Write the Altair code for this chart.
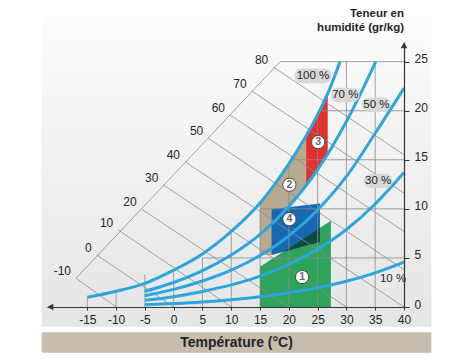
import altair as alt
import pandas as pd

FONT = "Liberation Sans, Arial, sans-serif"
TXT = "#252525"
GRID = "#8a8a8a"
CURVE = "#2ba6de"

# ---------------- data ----------------
# relative-humidity curves: temperature (°C) / moisture content (g/kg)
rh100_T = [-15, -10, -5, 0, 5, 10, 15, 20, 25, 27, 28.9]
rh100_w = [1.0, 1.6, 2.4, 3.75, 5.4, 7.7, 10.6, 14.6, 19.6, 22.1, 25.0]
rh70_T = [-5, 0, 5, 10, 15, 20, 25, 30, 35.1]
rh70_w = [1.6, 2.5, 3.7, 5.3, 7.4, 10.25, 14.0, 18.9, 25.0]
rh50_T = [-5, 0, 5, 10, 15, 20, 25, 30, 35, 40]
rh50_w = [1.15, 1.8, 2.65, 3.75, 5.25, 7.25, 9.9, 13.3, 17.7, 22.3]
rh30_T = [-5, 0, 5, 10, 15, 20, 25, 30, 35, 40]
rh30_w = [0.68, 1.05, 1.58, 2.25, 3.15, 4.35, 5.9, 7.9, 10.5, 13.7]
rh10_T = [-5, 0, 5, 10, 15, 20, 25, 30, 35, 40]
rh10_w = [0.22, 0.35, 0.52, 0.75, 1.05, 1.45, 1.95, 2.62, 3.48, 4.57]

rh_labels = ["100 %", "70 %", "50 %", "30 %", "10 %"]
rh_label_T = [24.2, 29.8, 35.2, 35.5, 38.1]
rh_label_w = [23.55, 21.6, 20.6, 12.85, 2.85]

# enthalpy lines (kJ/kg): start on the oblique axis, end on the frame
enth_h = [-10, 0, 10, 20, 30, 40, 50, 60, 70, 80]
enth_T0 = [-16.96, -13.37, -9.62, -5.55, -1.8, 1.97, 6.01, 9.78, 13.55, 17.3]
enth_w0 = [2.92, 5.3, 7.85, 9.96, 12.44, 14.8, 17.19, 19.57, 22.02, 24.46]
enth_T1 = [-10, 0, 10, 20, 30, 40, 40, 40, 40, 40]
enth_w1 = [0, 0, 0, 0, 0, 0, 3.8, 7.7, 11.6, 15.5]
enth_axis_T = [-17.0, 18.5]
enth_axis_w = [2.9, 25.0]

# grid
vgrid_T = [-15, -10, -5, 0, 5, 10, 15, 20, 25, 30, 35]
vgrid_top = [1.0, 1.6, 3.3, 3.7, 5.0, 7.7, 10.6, 14.6, 19.6, 25.0, 25.0]
hgrid_w = [5, 10, 15, 20, 25]
hgrid_T0 = [5, 15, 20.4, 25.3, 18.5]

x_ticks = [-15, -10, -5, 0, 5, 10, 15, 20, 25, 30, 35, 40]
y_ticks = [0, 5, 10, 15, 20, 25]

# zones (polygon vertices, T / w)
zone2_T = [15, 15, 17, 19, 21, 23, 23, 22, 21, 20, 19.5, 17]
zone2_w = [5.3, 10.6, 12.0, 13.7, 15.5, 17.5, 12.35, 11.6, 10.9, 10.25, 10.1, 5.3]
zone3_T = [23, 23, 24, 25, 26, 26.75, 26.75, 26, 25, 24]
zone3_w = [12.35, 17.5, 18.5, 19.6, 20.7, 21.7, 15.5, 14.8, 14.0, 13.15]
zone1_T = [15, 15, 27.3, 27.3]
zone1_w = [0, 4.1, 8.8, 0]
zone4_T = [17.0, 17.0, 25.4, 25.4]
zone4_w = [5.3, 9.95, 10.55, 6.65]
zone14_T = [19.1, 25.4, 25.4]
zone14_w = [5.63, 8.04, 6.65]

zone_ids = ["1", "2", "3", "4"]
zone_id_T = [22.3, 20.1, 25.1, 20.1]
zone_id_w = [3.05, 12.45, 16.8, 8.95]

# ---------------- scales & axes ----------------
xs = alt.Scale(domain=[-22, 40], nice=False, zero=False)
ys = alt.Scale(domain=[0, 27], nice=False, zero=False)
AX = alt.Axis(values=x_ticks, title=None, grid=False, domainColor="#333333",
              domainWidth=1.2, tickColor="#333333", tickSize=3, labelFont=FONT,
              labelFontSize=12, labelColor=TXT, labelPadding=4, labelFlush=False,
              labelOverlap=False, labelExpr="'' + datum.value", zindex=2)
AY = alt.Axis(orient="right", values=y_ticks, title=None, grid=False,
              domainColor="#333333", domainWidth=1.2, tickColor="#333333",
              tickSize=5, labelFont=FONT, labelFontSize=12, labelColor=TXT,
              labelPadding=5, labelOffset=-3, labelFlush=False, zindex=2)


def X(field="T"):
    return alt.X(f"{field}:Q", scale=xs, axis=AX)


def Y(field="w"):
    return alt.Y(f"{field}:Q", scale=ys, axis=AY)


def poly(T, w):
    return pd.DataFrame({"T": T, "w": w, "i": list(range(len(T)))})


layers = []

# background panel and bottom band
panel = pd.DataFrame({"T": [-22.92], "T2": [44.74], "w": [-2.01], "w2": [29.77]})
grad = alt.LinearGradient(
    gradient="linear",
    stops=[alt.GradientStop(color="#fcfcfc", offset=0),
           alt.GradientStop(color="#e5e5e5", offset=1)],
    x1=0, x2=0, y1=0, y2=1)
layers.append(alt.Chart(panel).mark_rect(fill=grad).encode(
    x=X(), x2="T2", y=Y(), y2="w2"))
band = pd.DataFrame({"T": [-22.92], "T2": [44.74], "w": [-2.58], "w2": [-4.66]})
layers.append(alt.Chart(band).mark_rect(fill="#c8bdac").encode(
    x=X(), x2="T2", y=Y(), y2="w2"))

# zones
for T, w, col in [(zone2_T, zone2_w, "#b9a98f"),
                  (zone3_T, zone3_w, "#e2302c"),
                  (zone1_T, zone1_w, "#2ea35b"),
                  (zone4_T, zone4_w, "#1767b2"),
                  (zone14_T, zone14_w, "#0f4b40")]:
    layers.append(alt.Chart(poly(T, w)).mark_line(fill=col, strokeWidth=0).encode(
        x=X(), y=Y(), order="i:Q"))

# grid
vg = pd.DataFrame({"T": vgrid_T, "w": [0] * len(vgrid_T), "w2": vgrid_top})
layers.append(alt.Chart(vg).mark_rule(color=GRID, strokeWidth=0.8).encode(
    x=X(), y=Y(), y2="w2"))
hg = pd.DataFrame({"T": hgrid_T0, "T2": [40] * len(hgrid_T0), "w": hgrid_w})
layers.append(alt.Chart(hg).mark_rule(color=GRID, strokeWidth=0.8).encode(
    x=X(), x2="T2", y=Y()))

# enthalpy lines and oblique axis
en = pd.DataFrame({"h": enth_h, "T": enth_T0, "w": enth_w0,
                   "T2": enth_T1, "w2": enth_w1})
layers.append(alt.Chart(en).mark_rule(color=GRID, strokeWidth=0.8).encode(
    x=X(), y=Y(), x2="T2", y2="w2"))
ea = pd.DataFrame({"T": [enth_axis_T[0]], "w": [enth_axis_w[0]],
                   "T2": [enth_axis_T[1]], "w2": [enth_axis_w[1]]})
layers.append(alt.Chart(ea).mark_rule(color=GRID, strokeWidth=0.8).encode(
    x=X(), y=Y(), x2="T2", y2="w2"))
layers.append(alt.Chart(en).mark_text(font=FONT, fontSize=12, color=TXT,
                                      align="right", baseline="middle",
                                      dx=-5, dy=-7).encode(
    x=X(), y=Y(), text="h:N"))

# RH curves
frames = []
for name, T, w in zip(rh_labels,
                      [rh100_T, rh70_T, rh50_T, rh30_T, rh10_T],
                      [rh100_w, rh70_w, rh50_w, rh30_w, rh10_w]):
    d = poly(T, w)
    d["rh"] = name
    frames.append(d)
curves = pd.concat(frames)
layers.append(alt.Chart(curves).mark_line(color=CURVE, strokeWidth=3,
                                          interpolate="monotone").encode(
    x=X(), y=Y(), detail="rh:N", order="i:Q"))


# pills behind RH labels
def pill(hw, hh):
    r = hh
    a = hw - r
    return (f"M{-a},{-r} L{a},{-r} A{r},{r} 0 0 1 {a},{r} "
            f"L{-a},{r} A{r},{r} 0 0 1 {-a},{-r} Z")


lab = pd.DataFrame({"lab": rh_labels, "T": rh_label_T, "w": rh_label_w})
layers.append(alt.Chart(lab.iloc[:1]).mark_point(
    shape=pill(0.93, 0.37), size=1600, filled=True, color="#d8d8d8", opacity=1).encode(
    x=X(), y=Y()))
layers.append(alt.Chart(lab.iloc[1:4]).mark_point(
    shape=pill(0.72, 0.36), size=1600, filled=True, color="#d8d8d8", opacity=1).encode(
    x=X(), y=Y()))
layers.append(alt.Chart(lab).mark_text(font=FONT, fontSize=11.5, color=TXT,
                                       align="center", baseline="middle").encode(
    x=X(), y=Y(), text="lab:N"))

# zone numbers
zn = pd.DataFrame({"id": zone_ids, "T": zone_id_T, "w": zone_id_w})
layers.append(alt.Chart(zn).mark_point(shape="circle", size=175, filled=True,
                                       fill="white", stroke="#4a4a4a",
                                       strokeWidth=1, opacity=1).encode(
    x=X(), y=Y()))
layers.append(alt.Chart(zn).mark_text(font=FONT, fontSize=10.5, fontWeight="bold",
                                      color="#666666", baseline="middle").encode(
    x=X(), y=Y(), text="id:N"))

# arrow heads
arr_l = pd.DataFrame({"T": [-21.42], "w": [0]})
layers.append(alt.Chart(arr_l).mark_point(shape="triangle-left", size=45, filled=True,
                                          color="#333333", opacity=1).encode(
    x=X(), y=Y()))
arr_u = pd.DataFrame({"T": [40], "w": [26.66]})
layers.append(alt.Chart(arr_u).mark_point(shape="triangle-up", size=45, filled=True,
                                          color="#333333", opacity=1).encode(
    x=X(), y=Y()))

# titles
tt = pd.DataFrame({"t": ["Teneur en", "humidité (gr/kg)"], "T": [40, 40],
                   "w": [29.9, 28.4]})
layers.append(alt.Chart(tt).mark_text(font=FONT, fontSize=11.5, fontWeight="bold",
                                      color=TXT, align="right",
                                      baseline="middle").encode(
    x=X(), y=Y(), text="t:N"))
xt = pd.DataFrame({"t": ["Température (°C)"], "T": [10.91], "w": [-3.67]})
layers.append(alt.Chart(xt).mark_text(font=FONT, fontSize=14, fontWeight="bold",
                                      color=TXT, align="center",
                                      baseline="middle").encode(
    x=X(), y=Y(), text="t:N"))

chart = alt.layer(*layers).properties(
    width=357, height=265,
    padding={"left": 39, "top": 34, "right": 58, "bottom": 48},
    autosize="none",
    background="white",
).configure_view(stroke=None)

chart.save("out.html", embed_options={"renderer": "svg", "actions": False})
